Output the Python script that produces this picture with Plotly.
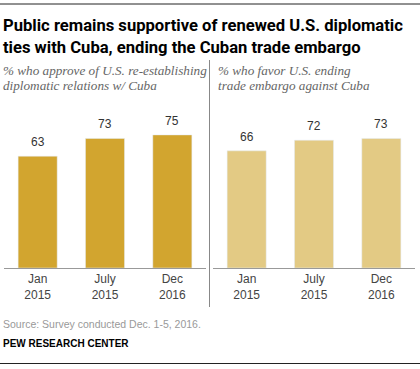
import plotly.graph_objects as go

W, H = 420, 369

categories = ["Jan<br>2015", "July<br>2015", "Dec<br>2016"]
approve_diplomatic = [63, 73, 75]
favor_end_embargo = [66, 72, 73]

title_lines = ["Public remains supportive of renewed U.S. diplomatic",
               "ties with Cuba, ending the Cuban trade embargo"]
left_sub = ["% who approve of U.S. re-establishing", "diplomatic relations w/ Cuba"]
right_sub = ["% who favor U.S. ending", "trade embargo against Cuba"]
source_text = "Source: Survey conducted Dec. 1-5, 2016."
credit_text = "PEW RESEARCH CENTER"

LEFT_COLOR = "#D2A52F"
RIGHT_COLOR = "#E3CA84"

def px(x):
    return x / W

def py(y):
    return 1 - y / H

fig = go.Figure()

fig.add_trace(go.Bar(x=categories, y=approve_diplomatic, marker_color=LEFT_COLOR,
                     width=0.58, xaxis="x", yaxis="y", hoverinfo="skip"))
fig.add_trace(go.Bar(x=categories, y=favor_end_embargo, marker_color=RIGHT_COLOR,
                     width=0.58, xaxis="x2", yaxis="y2", hoverinfo="skip"))

y_dom = [py(268), py(90.5)]
axis_common = dict(showgrid=False, zeroline=False, ticks="",
                   tickfont=dict(family="Liberation Sans, Arial", size=12, color="#444"),
                   showline=True, linecolor="#999", linewidth=1, fixedrange=True,
                   range=[-0.5, 2.5])
fig.update_layout(
    xaxis=dict(domain=[px(4), px(206)], anchor="y", **axis_common),
    xaxis2=dict(domain=[px(213), px(415)], anchor="y2", **axis_common),
    yaxis=dict(domain=y_dom, range=[0, 100], visible=False, anchor="x", fixedrange=True),
    yaxis2=dict(domain=y_dom, range=[0, 100], visible=False, anchor="x2", fixedrange=True),
)

annotations = []
for xa, ya, vals in (("x", "y", approve_diplomatic), ("x2", "y2", favor_end_embargo)):
    for c, v in zip(categories, vals):
        annotations.append(dict(x=c, y=v, xref=xa, yref=ya, text=str(v), showarrow=False,
                                yanchor="bottom", yshift=5,
                                font=dict(family="Liberation Sans, Arial", size=12, color="#333")))

def text_at(x, y, txt, font, anchor="middle"):
    return dict(x=px(x), y=py(y), xref="paper", yref="paper", text=txt, showarrow=False,
                xanchor="left", yanchor=anchor, align="left", font=font)

title_font = dict(family="Roboto, Liberation Sans", size=16.6, color="#000")
sub_font = dict(family="Liberation Serif, serif", size=13.2, color="#666")
for i, line in enumerate(title_lines):
    annotations.append(text_at(1, 25 + 22 * i, "<b>" + line + "</b>", title_font))
for i, line in enumerate(left_sub):
    annotations.append(text_at(1, 70 + 15 * i, "<i>" + line + "</i>", sub_font))
for i, line in enumerate(right_sub):
    annotations.append(text_at(216, 70 + 15 * i, "<i>" + line + "</i>", sub_font))
annotations.append(text_at(1, 324, source_text,
                           dict(family="Liberation Sans, Arial", size=10.5, color="#999")))
annotations.append(text_at(1, 343, "<b>" + credit_text + "</b>",
                           dict(family="Liberation Sans Narrow, Liberation Sans", size=10, color="#000")))

shapes = [
    dict(type="line", xref="paper", yref="paper", x0=0, x1=1, y0=py(4), y1=py(4),
         line=dict(color="#222", width=1)),
    dict(type="line", xref="paper", yref="paper", x0=0, x1=1, y0=py(363.5), y1=py(363.5),
         line=dict(color="#222", width=1)),
    dict(type="line", xref="paper", yref="paper", x0=px(209.5), x1=px(209.5), y0=py(60), y1=py(307),
         line=dict(color="#888", width=1)),
]

fig.update_layout(
    width=W, height=H, margin=dict(l=0, r=0, t=0, b=0),
    paper_bgcolor="white", plot_bgcolor="white", showlegend=False,
    annotations=annotations, shapes=shapes, barmode="overlay",
)

fig.write_html("out.html", config={"displayModeBar": False},
               post_script="document.body.style.margin='0';document.body.style.padding='0';")
